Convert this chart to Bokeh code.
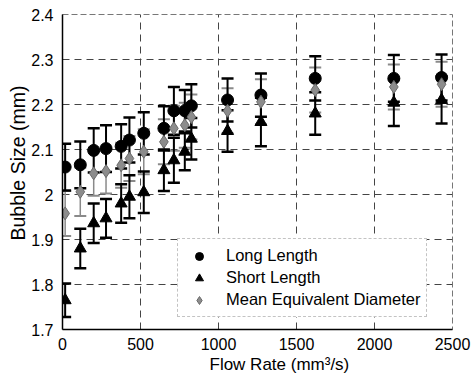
from bokeh.plotting import figure
from bokeh.models import ColumnDataSource, Whisker, Legend, LegendItem, FixedTicker, CustomJSTickFormatter, Title
from bokeh.embed import file_html
from bokeh.resources import INLINE

flow = [17, 114, 200, 279, 376, 429, 521, 650, 714, 784, 826, 1058, 1272, 1620, 2124, 2430]
long_len = [2.061, 2.066, 2.098, 2.102, 2.107, 2.121, 2.136, 2.147, 2.186, 2.186, 2.197, 2.210, 2.221, 2.258, 2.258, 2.260]
long_err = [0.052, 0.052, 0.049, 0.052, 0.049, 0.050, 0.047, 0.049, 0.053, 0.046, 0.048, 0.048, 0.048, 0.049, 0.052, 0.051]
short_len = [1.765, 1.880, 1.936, 1.947, 1.980, 1.995, 2.005, 2.054, 2.076, 2.095, 2.124, 2.141, 2.161, 2.180, 2.204, 2.210]
short_err = [0.037, 0.044, 0.044, 0.043, 0.043, 0.048, 0.046, 0.046, 0.050, 0.041, 0.046, 0.046, 0.054, 0.047, 0.052, 0.052]
mean_eq = [1.958, 2.006, 2.047, 2.052, 2.065, 2.080, 2.095, 2.117, 2.147, 2.154, 2.172, 2.186, 2.206, 2.232, 2.239, 2.245]
mean_err = [0.050, 0.054, 0.050, 0.050, 0.050, 0.050, 0.050, 0.050, 0.050, 0.050, 0.050, 0.050, 0.050, 0.050, 0.050, 0.050]

x_ticks = [0, 500, 1000, 1500, 2000, 2500]
y_ticks = [1.7, 1.8, 1.9, 2.0, 2.1, 2.2, 2.3, 2.4]
x_title = "Flow Rate (mm³/s)"
y_title = "Bubble Size (mm)"

FONT = "Liberation Sans"

p = figure(width=473, height=378, output_backend="svg", toolbar_location=None,
           x_range=(0, 2500), y_range=(1.7, 2.4),
           min_border_left=62, min_border_right=21, min_border_top=14, min_border_bottom=49)
p.outline_line_color = "#777777"
p.outline_line_dash = "6 3"
p.background_fill_color = "white"
p.border_fill_color = "white"

p.xaxis.ticker = FixedTicker(ticks=x_ticks)
p.yaxis.ticker = FixedTicker(ticks=y_ticks)
p.yaxis.formatter = CustomJSTickFormatter(code="return tick.toFixed(1).replace(/\\.0$/, '');")
for ax in (p.xaxis[0], p.yaxis[0]):
    ax.major_tick_line_color = None
    ax.minor_tick_line_color = None
    ax.axis_line_color = "black"
    ax.axis_line_width = 1.5
    ax.major_label_text_font = FONT
    ax.major_label_text_font_size = "16px"
    ax.major_label_text_color = "black"
p.xaxis.major_label_standoff = 2
p.yaxis.major_label_standoff = 3

# axis titles (offset from the frame centre as in the reference)
p.add_layout(Title(text=x_title, align="left", offset=147, standoff=0,
                   text_font=FONT, text_font_size="17px", text_font_style="normal",
                   text_color="black"), "below")
p.add_layout(Title(text=y_title, align="left", offset=89, standoff=0,
                   text_font=FONT, text_font_size="19.5px", text_font_style="normal",
                   text_color="black"), "left")

p.xgrid.grid_line_color = "#444444"
p.ygrid.grid_line_color = "#444444"
p.xgrid.grid_line_dash = "7 5"
p.ygrid.grid_line_dash = "7 5"
p.xgrid.grid_line_width = 1
p.ygrid.grid_line_width = 1

def add_err(vals, errs, color, width):
    src = ColumnDataSource(dict(x=flow,
                                lo=[v - e for v, e in zip(vals, errs)],
                                hi=[v + e for v, e in zip(vals, errs)]))
    w = Whisker(source=src, base="x", lower="lo", upper="hi",
                line_color=color, line_width=width)
    w.upper_head.size = 12
    w.lower_head.size = 12
    w.upper_head.line_color = color
    w.lower_head.line_color = color
    w.upper_head.line_width = width + 0.5
    w.lower_head.line_width = width + 0.5
    p.add_layout(w)

add_err(mean_eq, mean_err, "#8a8a8a", 1.5)
add_err(long_len, long_err, "black", 2)
add_err(short_len, short_err, "black", 2)

src = ColumnDataSource(dict(x=flow, long=long_len, short=short_len, mean=mean_eq))
r_long = p.scatter("x", "long", source=src, marker="circle", size=12,
                   fill_color="black", line_color="black")
r_short = p.scatter("x", "short", source=src, marker="triangle", size=12,
                    fill_color="black", line_color="black")
r_mean = p.scatter("x", "mean", source=src, marker="diamond", size=13,
                   fill_color="#8c8c8c", line_color="#6a6a6a")

legend = Legend(items=[LegendItem(label="Long Length", renderers=[r_long]),
                       LegendItem(label="Short Length", renderers=[r_short]),
                       LegendItem(label="Mean Equivalent Diameter", renderers=[r_mean])],
                location=(115, 12))
legend.label_text_font = FONT
legend.label_text_font_size = "16.5px"
legend.label_text_color = "black"
legend.border_line_color = "#888888"
legend.border_line_dash = "2 2"
legend.background_fill_color = "white"
legend.background_fill_alpha = 1
legend.padding = 6
legend.spacing = 1
legend.label_height = 21
legend.glyph_width = 30
legend.label_standoff = 12
legend.margin = 0
p.add_layout(legend, "center")

open("out.html", "w").write(file_html(p, INLINE))
